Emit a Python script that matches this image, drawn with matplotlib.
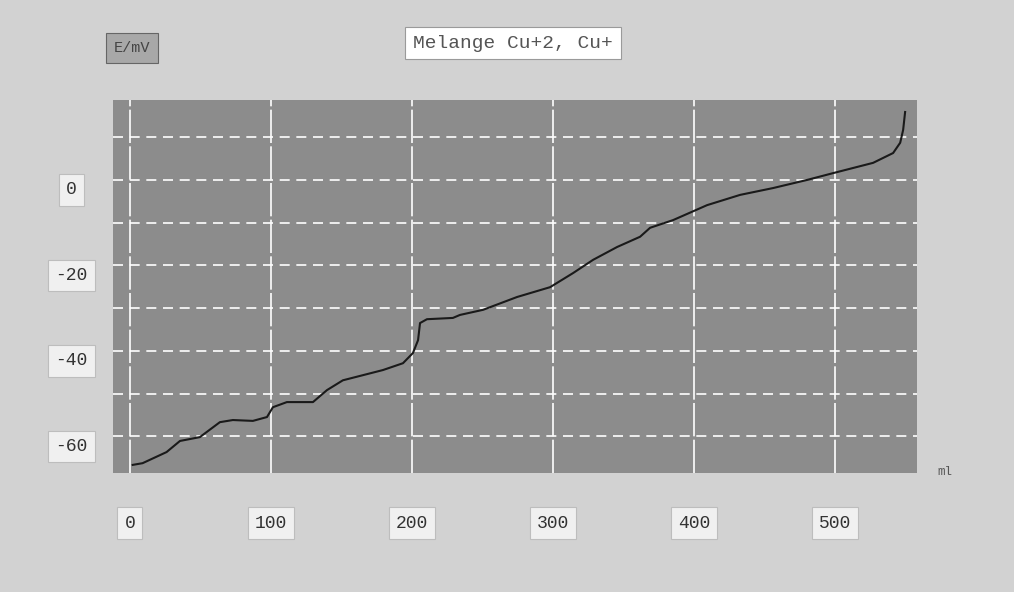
import matplotlib
matplotlib.use("Agg")
import matplotlib.pyplot as plt
import matplotlib.transforms as mtransforms

# values
volume = [2, 9, 26, 35.5, 49.6, 63.8, 73, 87.2, 97.2, 101.4, 111.3, 129.8,
          139.7, 151, 165.2, 179.4, 193.6, 200.7, 204.3, 205.7, 210.6, 229,
          234, 250.4, 274.5, 297.9, 314.2, 328.4, 345.4, 361.7, 368.8, 385.1,
          409.2, 432.6, 456, 480.1, 498.6, 526.9, 541.1, 546.1, 548.2, 549.6]
potential = [-66.7, -66.3, -63.7, -61.1, -60.2, -56.7, -56.2, -56.4, -55.5,
             -53.2, -52.0, -52.0, -49.2, -46.9, -45.7, -44.5, -42.9, -40.5,
             -37.5, -33.5, -32.6, -32.3, -31.6, -30.4, -27.4, -25.1, -21.8,
             -18.7, -15.7, -13.3, -11.2, -9.4, -5.9, -3.5, -1.9, 0.0, 1.6,
             4.0, 6.3, 8.7, 11.7, 15.9]

x_ticks = [0, 100, 200, 300, 400, 500]
y_ticks = [0, -20, -40, -60]
title = "Melange Cu+2, Cu+"
y_unit = "E/mV"
x_unit = "ml"

MONO = ["Liberation Mono", "DejaVu Sans Mono"]
BOX = dict(boxstyle="square,pad=0.4", facecolor="#f0f0f0", edgecolor="#bdbdbd", linewidth=0.8)

fig = plt.figure(figsize=(10.14, 5.92), dpi=100, facecolor="#d2d2d2")
ax = fig.add_axes([0.1114, 0.201, 0.7929, 0.630])
ax.set_facecolor("#8c8c8c")

ax.plot(volume, potential, color="#1a1a1a", linewidth=1.5, zorder=3)

ax.set_xlim(-12, 558)
ax.set_ylim(-68.6, 18.7)

# dashed horizontal grid every 10, solid-ish vertical grid every 100
for yv in range(-60, 20, 10):
    ax.axhline(yv, color="white", linewidth=1.2, linestyle=(0, (6, 4)), zorder=2)
for xv in x_ticks:
    ax.axvline(xv, color="white", linewidth=1.2, linestyle=(0, (20, 2)), zorder=2)

for s in ax.spines.values():
    s.set_visible(False)

ax.set_xticks(x_ticks)
ax.set_xticklabels([str(v) for v in x_ticks])
ax.set_yticks(y_ticks)
ax.set_yticklabels([str(v) for v in y_ticks])
ax.tick_params(length=0, labelsize=13, labelcolor="#333333")
ax.tick_params(axis="x", pad=30)
ax.tick_params(axis="y", pad=30)

down = mtransforms.ScaledTranslation(0, -8 / 100, fig.dpi_scale_trans)
for lab in ax.get_yticklabels():
    lab.set_fontfamily(MONO)
    lab.set_bbox(BOX)
    lab.set_horizontalalignment("center")
    lab.set_transform(lab.get_transform() + down)
for lab in ax.get_xticklabels():
    lab.set_fontfamily(MONO)
    lab.set_bbox(BOX)

# title box and unit labels as on the screen capture
fig.text(413 / 1014, 1 - 43 / 592, title, family=MONO, fontsize=14, color="#555555",
         ha="left", va="center",
         bbox=dict(boxstyle="square,pad=0.4", facecolor="white", edgecolor="#9a9a9a", linewidth=0.8))
fig.text(132 / 1014, 1 - 48 / 592, y_unit, family=MONO, fontsize=11, color="#444444",
         ha="center", va="center",
         bbox=dict(boxstyle="square,pad=0.5", facecolor="#a8a8a8", edgecolor="#666666", linewidth=0.8))
fig.text(945 / 1014, 1 - 472 / 592, x_unit, family=MONO, fontsize=9, color="#555555",
         ha="center", va="center")

fig.savefig("out.png", dpi=100, facecolor=fig.get_facecolor())
